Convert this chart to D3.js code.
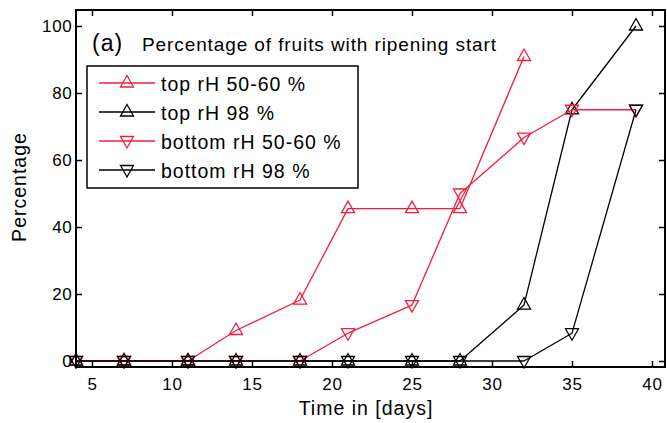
<!DOCTYPE html>
<html>
<head>
<meta charset="utf-8">
<script src="https://cdn.jsdelivr.net/npm/d3@7"></script>
<style>
  html, body { margin: 0; padding: 0; background: #ffffff; }
  svg { display: block; font-family: "Liberation Sans", Arial, Helvetica, sans-serif; }
</style>
</head>
<body>
<svg id="chart" width="667" height="423"></svg>
<script>
// Sampling days
const days = [4, 7, 11, 14, 18, 21, 25, 28, 32, 35, 39];

// Percentage of fruits with ripening start per series
const topDry = [0, 0, 0, 9.1, 18.2, 45.5, 45.5, 45.5, 90.9];          // top rH 50-60 %
const topWet = [0, 0, 0, 0, 0, 0, 0, 0, 16.7, 75, 100];               // top rH 98 %
const bottomDry = [0, 0, 0, 0, 0, 8.3, 16.7, 50, 66.7, 75, 75];       // bottom rH 50-60 %
const bottomWet = [0, 0, 0, 0, 0, 0, 0, 0, 0, 8.3, 75];               // bottom rH 98 %

const seriesNames = ["top rH 50-60 %", "top rH 98 %", "bottom rH 50-60 %", "bottom rH 98 %"];

const xTicks = [5, 10, 15, 20, 25, 30, 35, 40];
const yTicks = [0, 20, 40, 60, 80, 100];

const RED = "#f21d3d";
const BLACK = "#000000";

const series = [
  { name: seriesNames[0], values: topDry, color: RED, marker: "up" },
  { name: seriesNames[1], values: topWet, color: BLACK, marker: "up" },
  { name: seriesNames[2], values: bottomDry, color: RED, marker: "down" },
  { name: seriesNames[3], values: bottomWet, color: BLACK, marker: "down" }
];

const svg = d3.select("#chart");

// Plot frame
const frameLeft = 76, frameRight = 665, frameTop = 10, frameBottom = 367;

const x = d3.scaleLinear().domain([4, 40.8]).range([frameLeft, frameLeft + 36.8 * 16]);
const y = d3.scaleLinear().domain([0, 100]).range([361, 26]);

svg.append("rect")
  .attr("x", frameLeft).attr("y", frameTop)
  .attr("width", frameRight - frameLeft).attr("height", frameBottom - frameTop)
  .attr("fill", "#ffffff");

// Triangle marker shapes
const markerPath = {
  up: "M0,-7.5L6.5,4L-6.5,4Z",
  down: "M0,7L6.5,-4.5L-6.5,-4.5Z"
};

// Data lines and markers
const plot = svg.append("g");
const line = d3.line().x(d => x(d[0])).y(d => y(d[1]));

series.forEach(s => {
  const pts = s.values.map((v, i) => [days[i], v]);
  const g = plot.append("g");
  g.append("path")
    .attr("d", line(pts))
    .attr("fill", "none")
    .attr("stroke", s.color)
    .attr("stroke-width", 1.3)
    .attr("stroke-linejoin", "round");
  g.selectAll("path.mk")
    .data(pts)
    .enter().append("path")
    .attr("class", "mk")
    .attr("d", markerPath[s.marker])
    .attr("transform", d => `translate(${x(d[0])},${y(d[1])})`)
    .attr("fill", "none")
    .attr("stroke", s.color)
    .attr("stroke-width", 1.3);
});

// Axes with inward ticks
function styleAxis(g) {
  g.select(".domain").remove();
  g.selectAll(".tick line").attr("stroke", "#000").attr("stroke-width", 1.5);
  g.selectAll(".tick text")
    .attr("fill", "#000")
    .style("font-size", "17px")
    .style("letter-spacing", "0.7px");
}

svg.append("g")
  .attr("transform", `translate(0,${frameBottom})`)
  .call(d3.axisBottom(x).tickValues(xTicks).tickSizeInner(-6).tickSizeOuter(0).tickPadding(10.5))
  .call(styleAxis);

svg.append("g")
  .attr("transform", `translate(0,${frameTop})`)
  .call(d3.axisTop(x).tickValues(xTicks).tickSizeInner(-6).tickSizeOuter(0).tickFormat(""))
  .call(styleAxis);

svg.append("g")
  .attr("transform", `translate(${frameLeft},0)`)
  .call(d3.axisLeft(y).tickValues(yTicks).tickSizeInner(-6).tickSizeOuter(0).tickPadding(3.5))
  .call(styleAxis);

svg.append("g")
  .attr("transform", `translate(${frameRight},0)`)
  .call(d3.axisRight(y).tickValues(yTicks).tickSizeInner(-6).tickSizeOuter(0).tickFormat(""))
  .call(styleAxis);

svg.append("rect")
  .attr("x", frameLeft).attr("y", frameTop)
  .attr("width", frameRight - frameLeft).attr("height", frameBottom - frameTop)
  .attr("fill", "none")
  .attr("stroke", "#000")
  .attr("stroke-width", 2);

// Axis labels
svg.append("text")
  .attr("x", 366).attr("y", 415)
  .attr("text-anchor", "middle")
  .style("font-size", "19.5px")
  .style("letter-spacing", "1px")
  .text("Time in [days]");

svg.append("text")
  .attr("transform", "translate(26,187) rotate(-90)")
  .attr("text-anchor", "middle")
  .style("font-size", "19.5px")
  .style("letter-spacing", "1px")
  .text("Percentage");

// Panel title
svg.append("text")
  .attr("x", 92).attr("y", 51)
  .style("font-size", "23px")
  .style("letter-spacing", "1px")
  .text("(a)");

svg.append("text")
  .attr("x", 142).attr("y", 50.5)
  .style("font-size", "19px")
  .style("letter-spacing", "0.9px")
  .text("Percentage of fruits with ripening start");

// Legend
const legend = svg.append("g");
legend.append("rect")
  .attr("x", 87).attr("y", 66)
  .attr("width", 271).attr("height", 122)
  .attr("fill", "#ffffff")
  .attr("stroke", "#000")
  .attr("stroke-width", 1.5);

const rowY = [83, 112, 141, 170];
series.forEach((s, i) => {
  const ry = rowY[i];
  legend.append("line")
    .attr("x1", 99).attr("x2", 155)
    .attr("y1", ry).attr("y2", ry)
    .attr("stroke", s.color)
    .attr("stroke-width", 1.3);
  legend.append("path")
    .attr("d", markerPath[s.marker])
    .attr("transform", `translate(127,${ry})`)
    .attr("fill", "none")
    .attr("stroke", s.color)
    .attr("stroke-width", 1.3);
  legend.append("text")
    .attr("x", 161).attr("y", ry + 8)
    .style("font-size", "19.5px")
    .style("letter-spacing", "1px")
    .text(s.name);
});
</script>
</body>
</html>
